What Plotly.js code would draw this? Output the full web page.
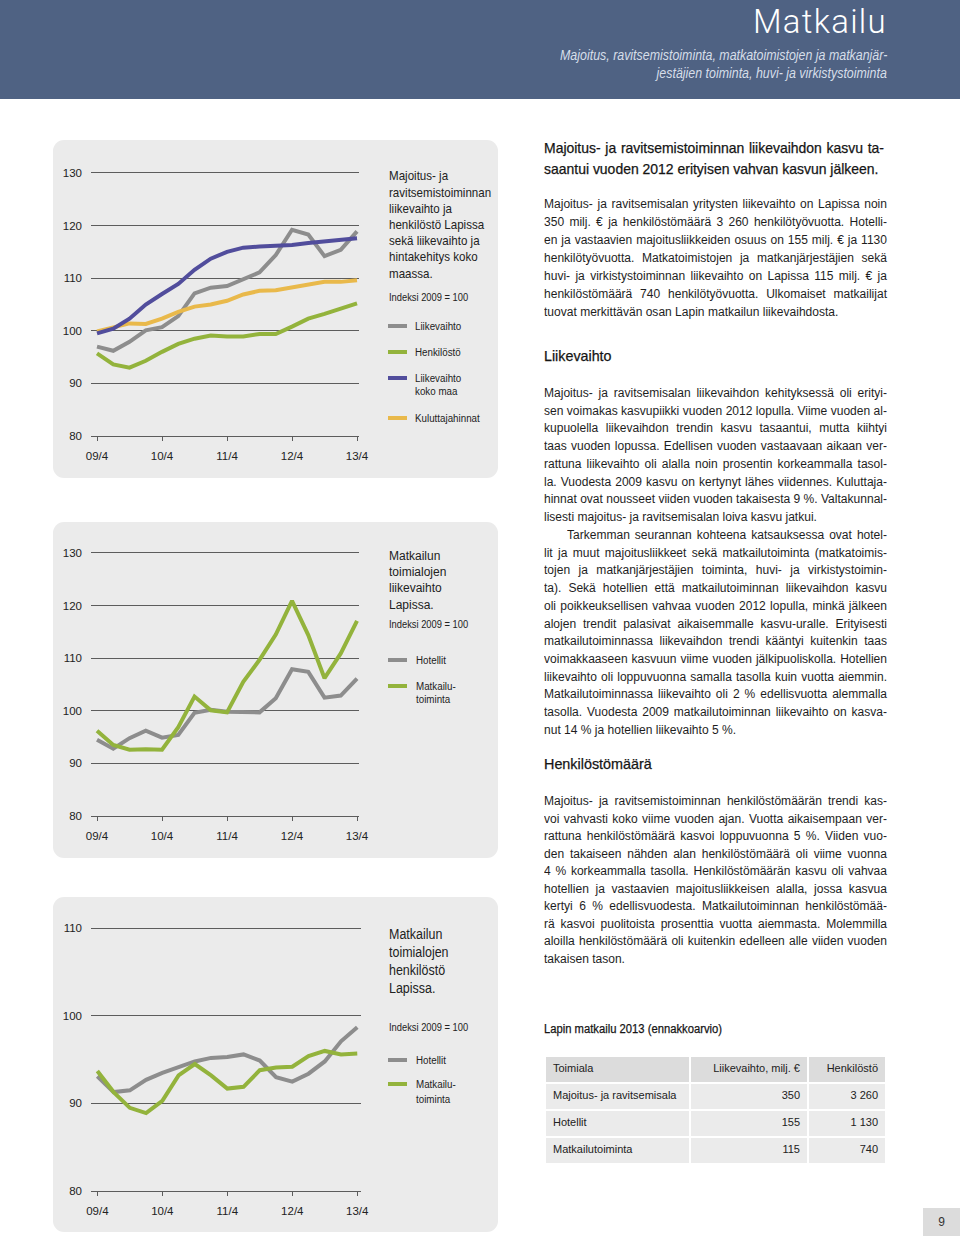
<!DOCTYPE html>
<html>
<head>
<meta charset="utf-8">
<script src="https://cdn.plot.ly/plotly-3.0.1.min.js"></script>
<style>
  body { margin:0; background:#fff; }
  #page { position:relative; width:960px; height:1236px; overflow:hidden; background:#fff;
          font-family:'Liberation Sans', Arial, sans-serif; }
  #header { position:absolute; left:0; top:0; width:960px; height:99px; background:#4f6283; }
  #htitle { position:absolute; right:73px; top:2px; font-family:Roboto,'Liberation Sans',sans-serif; font-weight:300;
            font-size:33px; line-height:normal; letter-spacing:1.3px; color:#fff; white-space:nowrap; }
  .hsub { position:absolute; right:73px; font-style:italic; font-size:14px; line-height:18px; color:#d6dee9;
          white-space:nowrap; transform-origin:100% 50%; }
  .panel { position:absolute; left:53px; width:445px; background:#ebebeb; border-radius:11px; }
  #plot { position:absolute; left:0; top:0; width:960px; height:1236px; }
  #plot .annotation-text { transform-box:fill-box; transform-origin:0% 50%; transform:scaleX(0.89); }
  .ln { position:absolute; left:544px; font-size:12px; line-height:18px; color:#1e1e1e; white-space:nowrap;
        transform-origin:0% 50%; }
  .hd { position:absolute; left:544px; white-space:nowrap; color:#151515; transform-origin:0% 50%;
        -webkit-text-stroke:0.25px #151515; }
  #pnum { position:absolute; left:923px; top:1208px; width:37px; height:28px; background:#dcdcdc;
          font-size:12px; color:#333; text-align:center; line-height:28px; }
</style>
</head>
<body>
<div id="page">
  <div id="header">
    <div id="htitle">Matkailu</div>
    <div class="hsub" id="sub1" style="top:46px;">Majoitus, ravitsemistoiminta, matkatoimistojen ja matkanjär-</div>
    <div class="hsub" id="sub2" style="top:64px;">jestäjien toiminta, huvi- ja virkistystoiminta</div>
  </div>
  <div class="panel" style="top:140px;height:338px;"></div>
  <div class="panel" style="top:522px;height:336px;"></div>
  <div class="panel" style="top:897px;height:335px;"></div>
  <div id="plot"></div>
  <div id="text"></div>
  <div id="pnum">9</div>
</div>
<script>
// ---------------- DATA ----------------
const quarters = ['09/4','10/1','10/2','10/3','10/4','11/1','11/2','11/3','11/4','12/1','12/2','12/3','12/4','13/1','13/2','13/3','13/4'];
const yearTicks = ['09/4','10/4','11/4','12/4','13/4'];

// Chart 1: Majoitus- ja ravitsemistoiminta, indeksi 2009 = 100
const liikevaihto       = [97.0, 96.2, 97.9, 100.1, 100.7, 102.8, 107.1, 108.2, 108.5, 109.9, 111.1, 114.4, 119.2, 118.3, 114.2, 115.4, 118.9];
const henkilosto        = [95.7, 93.6, 93.0, 94.3, 96.0, 97.5, 98.5, 99.1, 98.9, 98.9, 99.4, 99.4, 100.8, 102.3, 103.2, 104.1, 105.2];
const liikevaihtoKokoMaa= [99.5, 100.4, 102.3, 105.0, 107.0, 108.9, 111.6, 113.7, 115.0, 115.8, 116.0, 116.1, 116.3, 116.7, 117.0, 117.3, 117.6];
const kuluttajahinnat   = [99.9, 100.6, 101.4, 101.3, 102.3, 103.6, 104.6, 105.0, 105.7, 106.9, 107.6, 107.7, 108.2, 108.7, 109.3, 109.3, 109.6];

// Chart 2: Matkailun toimialojen liikevaihto
const hotellitLiikevaihto = [94.5, 92.8, 94.8, 96.2, 94.9, 95.4, 99.6, 100.2, 99.8, 99.7, 99.7, 102.4, 107.9, 107.4, 102.5, 102.9, 106.1];
const matkailuLiikevaihto = [96.2, 93.5, 92.6, 92.7, 92.6, 96.9, 102.7, 100.1, 99.7, 105.5, 109.7, 114.5, 120.9, 114.4, 106.2, 110.9, 117.1];

// Chart 3: Matkailun toimialojen henkilöstö
const hotellitHenkilosto = [93.1, 91.3, 91.5, 92.7, 93.5, 94.2, 94.8, 95.2, 95.3, 95.6, 94.9, 93.0, 92.5, 93.4, 94.8, 97.1, 98.7];
const matkailuHenkilosto = [93.7, 91.3, 89.5, 88.9, 90.3, 93.2, 94.5, 93.2, 91.7, 91.9, 93.8, 94.1, 94.2, 95.4, 96.0, 95.6, 95.7];

const yTicks1 = [80, 90, 100, 110, 120, 130];
const yTicks3 = [80, 90, 100, 110];

// Table: Lapin matkailu 2013 (ennakkoarvio)
const tableHeader = ['Toimiala', 'Liikevaihto, milj. €', 'Henkilöstö'];
const tableToimiala = ['Majoitus- ja ravitsemisala', 'Hotellit', 'Matkailutoiminta'];
const tableLiikevaihto = [350, 155, 115];
const tableHenkilosto = ['3 260', '1 130', '740'];

// ---------------- STYLE ----------------
const FONT = "'Liberation Sans', Arial, sans-serif";
const W = 960, H = 1236;
const C_GRAY = '#8d8d8d', C_GREEN = '#93b33c', C_PURPLE = '#514d9c', C_YELLOW = '#e9b94b';
const GRID = '#5c5c5c';
const px = v => v / W;
const py = v => 1 - v / H;

function xAxis(anchor, d0, d1, r0, r1) {
  return {
    type:'category', categoryarray:quarters, range:[r0, r1], domain:[px(d0), px(d1)], anchor:anchor,
    tickmode:'array', tickvals:yearTicks, ticktext:yearTicks,
    ticks:'outside', ticklen:4, tickwidth:1, tickcolor:GRID,
    showline:true, linecolor:GRID, linewidth:1, showgrid:false, zeroline:false,
    tickfont:{family:FONT, size:11.5, color:'#222'}, ticklabelstandoff:5, fixedrange:true
  };
}
function yAxis(anchor, top, bottom, r0, r1, tv) {
  return {
    range:[r0, r1], domain:[py(bottom), py(top)], anchor:anchor,
    tickmode:'array', tickvals:tv, ticks:'', showline:false, zeroline:false,
    showgrid:true, gridcolor:GRID, gridwidth:1,
    tickfont:{family:FONT, size:11.5, color:'#222'}, ticklabelstandoff:8, fixedrange:true
  };
}
function line(y, color, xa, ya, name) {
  return {type:'scatter', mode:'lines', x:quarters, y:y, xaxis:xa, yaxis:ya, name:name,
          line:{color:color, width:4, shape:'linear'}, hoverinfo:'skip', showlegend:false};
}

const traces = [
  line(liikevaihto, C_GRAY, 'x', 'y', 'Liikevaihto'),
  line(henkilosto, C_GREEN, 'x', 'y', 'Henkilöstö'),
  line(kuluttajahinnat, C_YELLOW, 'x', 'y', 'Kuluttajahinnat'),
  line(liikevaihtoKokoMaa, C_PURPLE, 'x', 'y', 'Liikevaihto koko maa'),
  line(hotellitLiikevaihto, C_GRAY, 'x2', 'y2', 'Hotellit'),
  line(matkailuLiikevaihto, C_GREEN, 'x2', 'y2', 'Matkailutoiminta'),
  line(hotellitHenkilosto, C_GRAY, 'x3', 'y3', 'Hotellit'),
  line(matkailuHenkilosto, C_GREEN, 'x3', 'y3', 'Matkailutoiminta'),
  {
    type:'table',
    domain:{x:[px(545), px(886)], y:[py(1172), py(1056)]},
    columnwidth:[145, 118, 78],
    header:{values:tableHeader, align:['left','right','right'], height:27,
            fill:{color:'#dcdcdc'}, line:{color:'#ffffff', width:2},
            font:{family:FONT, size:11, color:'#222'}},
    cells:{values:[tableToimiala, tableLiikevaihto, tableHenkilosto], align:['left','right','right'], height:27,
           fill:{color:'#ebebeb'}, line:{color:'#ffffff', width:2},
           font:{family:FONT, size:11, color:'#222'}}
  }
];

// annotations (chart titles, legends)
const annotations = [];
function ann(text, x, y, size, color) {
  annotations.push({text:text, x:px(x), y:py(y), xref:'paper', yref:'paper', xanchor:'left', yanchor:'middle',
    showarrow:false, align:'left', font:{family:FONT, size:size, color:color || '#222'}});
}
const shapes = [];
function swatch(y, color) {
  shapes.push({type:'line', xref:'paper', yref:'paper', x0:px(388), x1:px(407), y0:py(y), y1:py(y),
    line:{color:color, width:4}});
}

// chart 1 text
const t1 = ['Majoitus- ja','ravitsemistoiminnan','liikevaihto ja','henkilöstö Lapissa','sekä liikevaihto ja','hintakehitys koko','maassa.'];
t1.forEach((t,i) => ann(t, 387, 176 + i*16.2, 13));
ann('Indeksi 2009 = 100', 387, 297, 10.5);
ann('Liikevaihto', 413, 326, 11); swatch(326, C_GRAY);
ann('Henkilöstö', 413, 352, 11); swatch(352, C_GREEN);
ann('Liikevaihto', 413, 378, 11); ann('koko maa', 413, 391, 11); swatch(378, C_PURPLE);
ann('Kuluttajahinnat', 413, 418, 11); swatch(418, C_YELLOW);

// chart 2 text
const t2 = ['Matkailun','toimialojen','liikevaihto','Lapissa.'];
t2.forEach((t,i) => ann(t, 387, 555 + i*16.4, 13.5));
ann('Indeksi 2009 = 100', 387, 624, 10.5);
ann('Hotellit', 414, 660, 11); swatch(660, C_GRAY);
ann('Matkailu-', 414, 686, 11); ann('toiminta', 414, 699, 11); swatch(686, C_GREEN);

// chart 3 text
const t3 = ['Matkailun','toimialojen','henkilöstö','Lapissa.'];
t3.forEach((t,i) => ann(t, 387, 934 + i*18, 14));
ann('Indeksi 2009 = 100', 387, 1027, 10.5);
ann('Hotellit', 414, 1060, 11); swatch(1060, C_GRAY);
ann('Matkailu-', 414, 1084, 11); ann('toiminta', 414, 1099, 11); swatch(1084, C_GREEN);

const layout = {
  width:W, height:H, margin:{l:0, r:0, t:0, b:0},
  paper_bgcolor:'rgba(0,0,0,0)', plot_bgcolor:'rgba(0,0,0,0)',
  showlegend:false,
  xaxis: xAxis('y', 91, 359.3, -0.37, 16.14),
  yaxis: yAxis('x', 171.4, 436, 80, 130.3, yTicks1),
  xaxis2: xAxis('y2', 91, 359.3, -0.37, 16.14),
  yaxis2: yAxis('x2', 551.4, 816, 80, 130.3, yTicks1),
  xaxis3: xAxis('y3', 91, 361, -0.39, 16.23),
  yaxis3: yAxis('x3', 926.6, 1191, 80, 110.2, yTicks3),
  annotations:annotations, shapes:shapes
};
Plotly.newPlot('plot', traces, layout, {displayModeBar:false, staticPlot:true});

// ---------------- HEADER SUBTITLE FIT ----------------
(function(){
  const s1 = document.getElementById('sub1'), s2 = document.getElementById('sub2');
  const k = 327 / s1.offsetWidth;
  s1.style.transform = 'scaleX(' + k + ')';
  s2.style.transform = 'scaleX(' + k + ')';
})();

// ---------------- RIGHT COLUMN TEXT ----------------
const textBox = document.getElementById('text');
const COLW = 343;
function heading(t, y, size, targetW) {
  const d = document.createElement('div');
  d.className = 'hd'; d.textContent = t;
  d.style.fontSize = size + 'px'; d.style.lineHeight = '22px'; d.style.top = (y - 11) + 'px';
  textBox.appendChild(d);
  const k = targetW / d.offsetWidth;
  d.style.transform = 'scaleX(' + k + ')';
  return {el:d, k:k};
}
const allParas = [];
function para(lines, y0, step, indentFirst) {
  const els = lines.map((t, i) => {
    const d = document.createElement('div');
    d.className = 'ln'; d.textContent = t;
    d.style.top = (y0 + i*step - 9) + 'px';
    textBox.appendChild(d);
    return {el:d, last:i === lines.length - 1, indent:(i === 0 && indentFirst) ? indentFirst : 0};
  });
  allParas.push(...els);
}

// heading of the column
const hA = document.createElement('div');
hA.className = 'hd'; hA.textContent = 'Majoitus- ja ravitsemistoiminnan liikevaihdon kasvu ta-';
hA.style.fontSize = '14.5px'; hA.style.lineHeight = '22px'; hA.style.top = (148 - 11) + 'px';
textBox.appendChild(hA);
const hB = heading('saantui vuoden 2012 erityisen vahvan kasvun jälkeen.', 169, 14.5, 334);
hA.style.transform = 'scaleX(' + hB.k + ')';
hA.style.width = (340 / hB.k) + 'px'; hA.style.textAlign = 'justify'; hA.style.textAlignLast = 'justify';

para([
 'Majoitus- ja ravitsemisalan yritysten liikevaihto on Lapissa noin',
 '350 milj. € ja henkilöstömäärä 3 260 henkilötyövuotta. Hotelli-',
 'en ja vastaavien majoitusliikkeiden osuus on 155 milj. € ja 1130',
 'henkilötyövuotta. Matkatoimistojen ja matkanjärjestäjien sekä',
 'huvi- ja virkistystoiminnan liikevaihto on Lapissa 115 milj. € ja',
 'henkilöstömäärä 740 henkilötyövuotta. Ulkomaiset matkailijat',
 'tuovat merkittävän osan Lapin matkailun liikevaihdosta.'
], 204, 18.0);

heading('Liikevaihto', 356, 14.5, 68);

para([
 'Majoitus- ja ravitsemisalan liikevaihdon kehityksessä oli erityi-',
 'sen voimakas kasvupiikki vuoden 2012 lopulla. Viime vuoden al-',
 'kupuolella liikevaihdon trendin kasvu tasaantui, mutta kiihtyi',
 'taas vuoden lopussa. Edellisen vuoden vastaavaan aikaan ver-',
 'rattuna liikevaihto oli alalla noin prosentin korkeammalla tasol-',
 'la. Vuodesta 2009 kasvu on kertynyt lähes viidennes. Kuluttaja-',
 'hinnat ovat nousseet viiden vuoden takaisesta 9 %. Valtakunnal-',
 'lisesti majoitus- ja ravitsemisalan loiva kasvu jatkui.'
], 393, 17.72);

para([
 'Tarkemman seurannan kohteena katsauksessa ovat hotel-',
 'lit ja muut majoitusliikkeet sekä matkailutoiminta (matkatoimis-',
 'tojen ja matkanjärjestäjien toiminta, huvi- ja virkistystoimin-',
 'ta). Sekä hotellien että matkailutoiminnan liikevaihdon kasvu',
 'oli poikkeuksellisen vahvaa vuoden 2012 lopulla, minkä jälkeen',
 'alojen trendit palasivat aikaisemmalle kasvu-uralle. Erityisesti',
 'matkailutoiminnassa liikevaihdon trendi kääntyi kuitenkin taas',
 'voimakkaaseen kasvuun viime vuoden jälkipuoliskolla. Hotellien',
 'liikevaihto oli loppuvuonna samalla tasolla kuin vuotta aiemmin.',
 'Matkailutoiminnassa liikevaihto oli 2 % edellisvuotta alemmalla',
 'tasolla. Vuodesta 2009 matkailutoiminnan liikevaihto on kasva-',
 'nut 14 % ja hotellien liikevaihto 5 %.'
], 535, 17.7, 23);

heading('Henkilöstömäärä', 764, 14.5, 108);

para([
 'Majoitus- ja ravitsemistoiminnan henkilöstömäärän trendi kas-',
 'voi vahvasti koko viime vuoden ajan. Vuotta aikaisempaan ver-',
 'rattuna henkilöstömäärä kasvoi loppuvuonna 5 %. Viiden vuo-',
 'den takaiseen nähden alan henkilöstömäärä oli viime vuonna',
 '4 % korkeammalla tasolla. Henkilöstömäärän kasvu oli vahvaa',
 'hotellien ja vastaavien majoitusliikkeisen alalla, jossa kasvua',
 'kertyi 6 % edellisvuodesta. Matkailutoiminnan henkilöstömää-',
 'rä kasvoi puolitoista prosenttia vuotta aiemmasta. Molemmilla',
 'aloilla henkilöstömäärä oli kuitenkin edelleen alle viiden vuoden',
 'takaisen tason.'
], 801, 17.55);

heading('Lapin matkailu 2013 (ennakkoarvio)', 1029, 12.5, 178);

// calibrate the condensed scale from a reference ragged line (ends at ~842px in the original)
(function(){
  const ref = allParas[6].el; // 'tuovat merkittävän osan Lapin matkailun liikevaihdosta.'
  let k = 298 / ref.offsetWidth;
  allParas.forEach(p => {
    if (!p.last) {
      const avail = (COLW - p.indent) / k;
      if (p.el.offsetWidth > avail) k = (COLW - p.indent) / p.el.offsetWidth;
    }
  });
  allParas.forEach(p => {
    if (p.indent) p.el.style.left = (544 + p.indent) + 'px';
    p.el.style.transform = 'scaleX(' + k + ')';
    if (!p.last) {
      p.el.style.width = ((COLW - p.indent) / k) + 'px';
      p.el.style.textAlign = 'justify';
      p.el.style.textAlignLast = 'justify';
    }
  });
})();
</script>
</body>
</html>
